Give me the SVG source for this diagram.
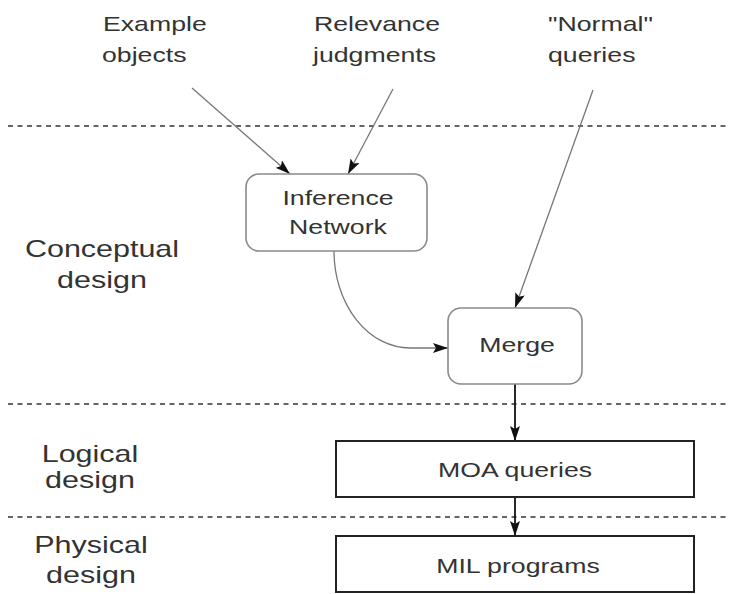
<svg xmlns="http://www.w3.org/2000/svg" width="730" height="594" viewBox="0 0 730 594">
  <style>
    .txt { font-family: "Liberation Sans", Arial, sans-serif; font-size: 21px; fill: #333; }
    .lbl { font-family: "Liberation Sans", Arial, sans-serif; font-size: 24px; fill: #333; }
    .sep { stroke: #333; stroke-width: 1.6; stroke-dasharray: 5 4.5; fill: none; }
    .soft { fill: #fff; stroke: #8a8a8a; stroke-width: 1.6; }
    .hard { fill: #fff; stroke: #222; stroke-width: 2; }
    .thin { stroke: #777; stroke-width: 1.3; fill: none; }
    .bold { stroke: #111; stroke-width: 1.8; fill: none; }
  </style>
  <defs>
    <marker id="head" markerUnits="userSpaceOnUse" markerWidth="15" markerHeight="10" refX="15" refY="5" orient="auto">
      <path d="M0,0 L15,5 L0,10 L3,5 z" fill="#111"/>
    </marker>
  </defs>
  <rect width="730" height="594" fill="#fff"/>

  <!-- layer separators -->
  <g id="separators">
    <line class="sep" x1="8" y1="126" x2="730" y2="126"/>
    <line class="sep" x1="8" y1="404" x2="730" y2="404"/>
    <line class="sep" x1="8" y1="517" x2="730" y2="517"/>
  </g>

  <!-- layer labels -->
  <g id="layer-labels">
    <text class="lbl" text-anchor="middle" transform="translate(102,257) scale(1.27,1)">Conceptual</text>
    <text class="lbl" text-anchor="middle" transform="translate(102,288) scale(1.27,1)">design</text>
    <text class="lbl" text-anchor="middle" transform="translate(90,462) scale(1.27,1)">Logical</text>
    <text class="lbl" text-anchor="middle" transform="translate(90,488) scale(1.27,1)">design</text>
    <text class="lbl" text-anchor="middle" transform="translate(91,553) scale(1.27,1)">Physical</text>
    <text class="lbl" text-anchor="middle" transform="translate(91,583) scale(1.27,1)">design</text>
  </g>

  <!-- inputs -->
  <g id="example-objects">
    <text class="txt" transform="translate(103,31) scale(1.27,1)">Example</text>
    <text class="txt" transform="translate(102,62) scale(1.27,1)">objects</text>
  </g>
  <g id="relevance-judgments">
    <text class="txt" transform="translate(314,31) scale(1.27,1)">Relevance</text>
    <text class="txt" transform="translate(313,62) scale(1.27,1)">judgments</text>
  </g>
  <g id="normal-queries">
    <text class="txt" transform="translate(548,31) scale(1.27,1)">"Normal"</text>
    <text class="txt" transform="translate(548,62) scale(1.27,1)">queries</text>
  </g>

  <!-- connectors -->
  <g id="connectors">
    <line class="thin" x1="192" y1="88" x2="290" y2="174" marker-end="url(#head)"/>
    <line class="thin" x1="393" y1="89" x2="348" y2="174" marker-end="url(#head)"/>
    <line class="thin" x1="593" y1="90" x2="515" y2="308" marker-end="url(#head)"/>
    <path class="thin" d="M334,251 A76,97 0 0 0 410,348 L448,348" marker-end="url(#head)"/>
    <line class="bold" x1="515" y1="384" x2="515" y2="441" marker-end="url(#head)"/>
    <line class="bold" x1="515" y1="497" x2="515" y2="536" marker-end="url(#head)"/>
  </g>

  <!-- nodes -->
  <g id="inference-network">
    <rect class="soft" x="246" y="174" width="181" height="77" rx="13"/>
    <text class="txt" text-anchor="middle" transform="translate(338,205) scale(1.27,1)">Inference</text>
    <text class="txt" text-anchor="middle" transform="translate(338,234) scale(1.27,1)">Network</text>
  </g>
  <g id="merge">
    <rect class="soft" x="448" y="308" width="134" height="76" rx="13"/>
    <text class="txt" text-anchor="middle" transform="translate(517,352) scale(1.27,1)">Merge</text>
  </g>
  <g id="moa-queries">
    <rect class="hard" x="336" y="441" width="358" height="56"/>
    <text class="txt" text-anchor="middle" transform="translate(515,477) scale(1.27,1)">MOA queries</text>
  </g>
  <g id="mil-programs">
    <rect class="hard" x="336" y="536" width="358" height="56"/>
    <text class="txt" text-anchor="middle" transform="translate(518,573) scale(1.27,1)">MIL programs</text>
  </g>
</svg>
